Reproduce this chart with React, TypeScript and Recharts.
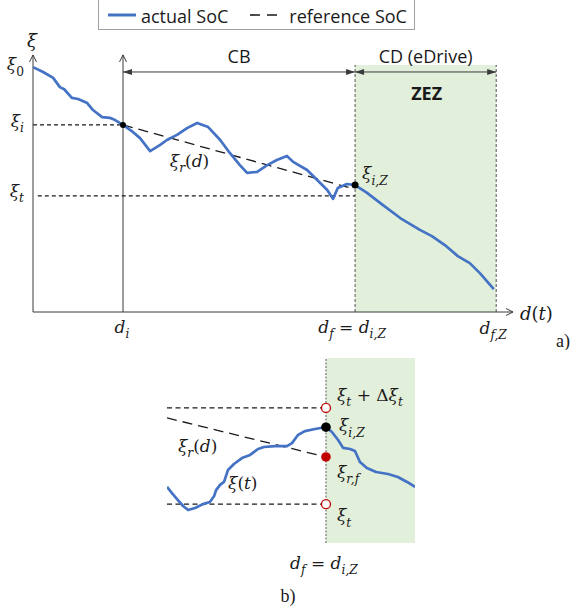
import React from 'react';
import { ComposedChart, Line, XAxis, YAxis, ReferenceLine, ReferenceDot, ReferenceArea, Legend } from 'recharts';

// ---------- Panel a) data (distance d, SoC xi) in arbitrary units 0..100 ----------
const actualDistA = [0, 2.1, 4.2, 5.6, 6.5, 8.1, 9.4, 11.3, 12.5, 14.4, 16, 17.1, 18.75, 20.8, 22.3, 24.4, 26.5, 27.9, 30, 32.1, 34.2, 36.5, 39, 41, 43.1, 44.6, 46.7, 48.8, 50.8, 52.9, 54.2, 57.1, 59.2, 61.3, 62.5, 63.5, 65.4, 67.1, 69.6, 72.3, 76.5, 80.6, 83.1, 85.8, 88.5, 91, 93.1, 96];
const actualSocA = [90.7, 88.9, 86.7, 83.3, 82.5, 79.3, 78.9, 77.4, 74.8, 72.2, 71.9, 71.1, 69.3, 66.7, 64.4, 59.6, 61.9, 63.7, 65.6, 68.1, 70, 68.5, 63.7, 58.9, 54.4, 51.5, 51.9, 54.4, 56.3, 57.8, 55.6, 52.6, 48.9, 45.2, 41.9, 45.9, 47.4, 47, 44.1, 40.4, 34.8, 30.4, 28.1, 24.8, 20.7, 18.1, 14.4, 8.5];
const refDistA = [18.75, 66.2];
const refSocA = [69.3, 45.9];

const D_I = 18.75;
const D_F = 67.1;
const D_FZ = 96.5;
const AXIS_TOP = 95.2;
const ZONE_TOP = 91.5;
const PHASE_Y = 88.9;
const XI_0 = 90.7;
const XI_I = 69.3;
const XI_T = 43;
const XI_IZ = 47;

// ---------- Panel b) data (zoom near d_f) ----------
const actualDistB = [0, 2, 4.4, 6.5, 8.5, 11.3, 14.5, 17.3, 19, 19.8, 21.4, 23, 24.6, 27, 30.2, 33.5, 36.7, 39.1, 43.5, 48.4, 50.4, 52.8, 55.6, 59.7, 64.1, 66.5, 69, 71, 73.8, 75.8, 77.8, 80.6, 84.3, 89.1, 93.1, 96.8, 100];
const actualSocB = [30.3, 27, 23.2, 20, 17.8, 18.9, 21, 22.2, 25.4, 28.6, 31.4, 33, 39.5, 42.7, 45.9, 47.6, 50.8, 51.9, 52.4, 52.4, 54, 58.4, 60.5, 61.6, 62.7, 60, 55.7, 51.4, 50.8, 49.7, 43.8, 40.5, 38.4, 37.3, 35.7, 33, 30.3];
const refDistB = [0, 64.1];
const refSocB = [67.6, 46.5];

const DF_B = 64.1;
const XI_TD_B = 73;
const XI_IZ_B = 62.6;
const XI_RF_B = 46.5;
const XI_T_B = 21;

const seriesNames = ['actual SoC', 'reference SoC'];

const toRows = (xs: number[], ys: number[]) => xs.map((d, i) => ({ d, xi: ys[i] }));
const actualA = toRows(actualDistA, actualSocA);
const refA = toRows(refDistA, refSocA);
const actualB = toRows(actualDistB, actualSocB);
const refB = toRows(refDistB, refSocB);

const BLUE = '#4472c4';
const INK = '#1a1a1a';
const AXIS = '#3a3a3a';
const GREEN = '#e2efda';
const RED = '#c00000';
const SANS = "'Open Sans', 'Noto Sans', sans-serif";
const SERIF = "'DejaVu Serif', 'Liberation Serif', serif";
const ROMAN = "'Liberation Serif', serif";

type Part = { t: string; sub?: boolean; up?: boolean };

function MathText({ x, y, parts, anchor = 'start', size = 17 }: { x: number; y: number; parts: Part[]; anchor?: string; size?: number }) {
  let sub = false;
  const shift = size * 0.32;
  const spans = parts.map((p, i) => {
    let dy = 0;
    if (p.sub && !sub) dy = shift;
    else if (!p.sub && sub) dy = -shift;
    sub = !!p.sub;
    return (
      <tspan key={i} dy={dy} fontSize={p.sub ? size * 0.72 : size} fontStyle={p.up ? 'normal' : 'italic'}>
        {p.t}
      </tspan>
    );
  });
  return (
    <text x={x} y={y} textAnchor={anchor as any} fontFamily={SERIF} fill={INK} fontSize={size} style={{ whiteSpace: 'pre' }}>
      {spans}
    </text>
  );
}

const mathAt = (parts: Part[], dx: number, dy: number, anchor = 'start', size = 17) => (p: any) => (
  <MathText x={p.cx + dx} y={p.cy + dy} parts={parts} anchor={anchor} size={size} />
);

const textAt = (t: string, dx: number, dy: number, opts: any = {}) => (p: any) => (
  <text x={p.cx + dx} y={p.cy + dy} textAnchor="middle" fontFamily={SANS} fontSize={18} fill={INK} {...opts}>
    {t}
  </text>
);

const arrowLine = (color: string, both: boolean, filled: boolean, width = 1) => (p: any) => {
  const { x1, y1, x2, y2 } = p;
  const a = Math.atan2(y2 - y1, x2 - x1);
  const head = (x: number, y: number, ang: number, k: string) => {
    const L = filled ? 9 : 7;
    const W = filled ? 3 : 3.5;
    const bx = x - L * Math.cos(ang);
    const by = y - L * Math.sin(ang);
    const p1 = `${bx - W * Math.sin(ang)},${by + W * Math.cos(ang)}`;
    const p2 = `${bx + W * Math.sin(ang)},${by - W * Math.cos(ang)}`;
    return filled ? (
      <polygon key={k} points={`${x},${y} ${p1} ${p2}`} fill={color} />
    ) : (
      <polyline key={k} points={`${p1} ${x},${y} ${p2}`} fill="none" stroke={color} strokeWidth={width} />
    );
  };
  return (
    <g>
      <line x1={x1} y1={y1} x2={x2} y2={y2} stroke={color} strokeWidth={width} />
      {head(x2, y2, a, 'e')}
      {both ? head(x1, y1, a + Math.PI, 's') : null}
    </g>
  );
};

const LegendBox = (props: any) => {
  const payload = (props.payload || []) as any[];
  return (
    <div
      style={{
        border: '1px solid #a0a0a0',
        width: 317,
        height: 31,
        boxSizing: 'border-box',
        background: '#fff',
        display: 'flex',
        alignItems: 'center',
        paddingLeft: 9,
        fontFamily: SANS,
        fontSize: 18,
        color: INK,
      }}
    >
      {payload.map((it, i) => (
        <div key={i} style={{ display: 'flex', alignItems: 'center', marginRight: i === 0 ? 22 : 0 }}>
          <svg width={28} height={10} style={{ marginRight: i === 0 ? 5 : 11 }}>
            <line
              x1={0}
              y1={5}
              x2={28}
              y2={5}
              stroke={it.payload?.stroke === BLUE ? BLUE : INK}
              strokeWidth={it.payload?.stroke === BLUE ? 3 : 1.6}
              strokeDasharray={it.payload?.stroke === BLUE ? undefined : '10 7'}
            />
          </svg>
          <span style={{ lineHeight: '20px', marginTop: 2 }}>{it.value}</span>
        </div>
      ))}
    </div>
  );
};

export default function App() {
  const ov = 'visible' as const;
  return (
    <div style={{ position: 'absolute', left: 0, top: 0, width: 579, height: 607, background: '#fff' }}>
      <ComposedChart width={579} height={350} margin={{ top: 42, right: 66, bottom: 38, left: 33 }} style={{ display: 'block' }}>
        <XAxis dataKey="d" type="number" domain={[0, 100]} allowDataOverflow hide />
        <YAxis dataKey="xi" type="number" domain={[0, 100]} allowDataOverflow hide />
        <Legend
          layout="vertical"
          verticalAlign="middle"
          align="center"
          content={LegendBox}
          wrapperStyle={{ top: -1, left: 98, width: 317, height: 31 }}
        />
        <ReferenceArea x1={D_F} x2={D_FZ} y1={0} y2={ZONE_TOP} fill={GREEN} fillOpacity={1} stroke="none" ifOverflow={ov} />
        <ReferenceLine segment={[{ x: D_F, y: 0 }, { x: D_F, y: ZONE_TOP }]} stroke="#555" strokeWidth={1} strokeDasharray="3 2" ifOverflow={ov} />
        <ReferenceLine segment={[{ x: D_FZ, y: 0 }, { x: D_FZ, y: ZONE_TOP }]} stroke="#555" strokeWidth={1} strokeDasharray="3 2" ifOverflow={ov} />
        <ReferenceLine segment={[{ x: 0, y: 0 }, { x: 0, y: AXIS_TOP }]} shape={arrowLine(AXIS, false, false)} ifOverflow={ov} />
        <ReferenceLine segment={[{ x: 0, y: 0 }, { x: 100, y: 0 }]} shape={arrowLine(AXIS, false, false)} ifOverflow={ov} />
        <ReferenceLine segment={[{ x: D_I, y: 0 }, { x: D_I, y: AXIS_TOP }]} shape={arrowLine(AXIS, false, false)} ifOverflow={ov} />
        <ReferenceLine segment={[{ x: D_I, y: PHASE_Y }, { x: D_F, y: PHASE_Y }]} shape={arrowLine(AXIS, true, true)} ifOverflow={ov} />
        <ReferenceLine segment={[{ x: D_F, y: PHASE_Y }, { x: D_FZ, y: PHASE_Y }]} shape={arrowLine(AXIS, true, true)} ifOverflow={ov} />
        <ReferenceLine segment={[{ x: 0, y: XI_I }, { x: D_I, y: XI_I }]} stroke={INK} strokeWidth={1.2} strokeDasharray="4 3" ifOverflow={ov} />
        <ReferenceLine segment={[{ x: 1, y: XI_T }, { x: D_F, y: XI_T }]} stroke={INK} strokeWidth={1.2} strokeDasharray="4 3" ifOverflow={ov} />
        <Line data={refA} dataKey="xi" name={seriesNames[1]} stroke={INK} strokeWidth={1.3} strokeDasharray="10 6" dot={false} activeDot={false} isAnimationActive={false} />
        <Line data={actualA} dataKey="xi" name={seriesNames[0]} stroke={BLUE} strokeWidth={2.7} strokeLinejoin="round" dot={false} activeDot={false} isAnimationActive={false} />
        <ReferenceDot x={D_I} y={XI_I} r={3} fill="#000" stroke="none" ifOverflow={ov} />
        <ReferenceDot x={D_F} y={XI_IZ} r={3.5} fill="#000" stroke="none" ifOverflow={ov} />
        {/* labels */}
        <ReferenceDot x={0} y={100} r={0} ifOverflow={ov} shape={mathAt([{ t: 'ξ' }], -1, 5, 'middle', 18)} />
        <ReferenceDot x={0} y={XI_0} r={0} ifOverflow={ov} shape={mathAt([{ t: 'ξ' }, { t: '0', sub: true, up: true }], -9, 3, 'end')} />
        <ReferenceDot x={0} y={XI_I} r={0} ifOverflow={ov} shape={mathAt([{ t: 'ξ' }, { t: 'i', sub: true }], -9, 2, 'end')} />
        <ReferenceDot x={0} y={XI_T} r={0} ifOverflow={ov} shape={mathAt([{ t: 'ξ' }, { t: 't', sub: true }], -9, 1, 'end')} />
        <ReferenceDot x={28.5} y={55.2} r={0} ifOverflow={ov} shape={mathAt([{ t: 'ξ' }, { t: 'r', sub: true }, { t: '(', up: true }, { t: 'd' }, { t: ')', up: true }], 0, 4)} />
        <ReferenceDot x={D_F} y={XI_IZ} r={0} ifOverflow={ov} shape={mathAt([{ t: 'ξ' }, { t: 'i,Z', sub: true }], 7, -6)} />
        <ReferenceDot x={D_I} y={0} r={0} ifOverflow={ov} shape={mathAt([{ t: 'd' }, { t: 'i', sub: true }], -1, 21, 'middle')} />
        <ReferenceDot x={D_F} y={0} r={0} ifOverflow={ov} shape={mathAt([{ t: 'd' }, { t: 'f', sub: true }, { t: ' = ', up: true }, { t: 'd' }, { t: 'i,Z', sub: true }], -3, 21, 'middle')} />
        <ReferenceDot x={D_FZ} y={0} r={0} ifOverflow={ov} shape={mathAt([{ t: 'd' }, { t: 'f,Z', sub: true }], -3, 22, 'middle')} />
        <ReferenceDot x={100} y={0} r={0} ifOverflow={ov} shape={mathAt([{ t: 'd' }, { t: '(', up: true }, { t: 't' }, { t: ')', up: true }], 7, 8, 'start', 18)} />
        <ReferenceDot x={100} y={0} r={0} ifOverflow={ov} shape={textAt('a)', 50, 35, { fontFamily: ROMAN })} />
        <ReferenceDot x={(D_I + D_F) / 2} y={PHASE_Y} r={0} ifOverflow={ov} shape={textAt('CB', 0, -9)} />
        <ReferenceDot x={(D_F + D_FZ) / 2} y={PHASE_Y} r={0} ifOverflow={ov} shape={textAt('CD (eDrive)', 0, -9)} />
        <ReferenceDot x={(D_F + D_FZ) / 2} y={PHASE_Y} r={0} ifOverflow={ov} shape={textAt('ZEZ', 1, 28, { fontWeight: 700 })} />
      </ComposedChart>

      <ComposedChart width={579} height={257} margin={{ top: 8, right: 164, bottom: 64, left: 167 }} style={{ display: 'block' }}>
        <XAxis dataKey="d" type="number" domain={[0, 100]} allowDataOverflow hide />
        <YAxis dataKey="xi" type="number" domain={[0, 100]} allowDataOverflow hide />
        <ReferenceArea x1={DF_B} x2={100} y1={0} y2={100} fill={GREEN} fillOpacity={1} stroke="none" ifOverflow={ov} />
        <ReferenceLine segment={[{ x: DF_B, y: 0 }, { x: DF_B, y: 100 }]} stroke="#777" strokeWidth={1.2} strokeDasharray="2 1.5" ifOverflow={ov} />
        <ReferenceLine segment={[{ x: 0, y: XI_TD_B }, { x: DF_B, y: XI_TD_B }]} stroke={INK} strokeWidth={1.2} strokeDasharray="5 3.5" ifOverflow={ov} />
        <ReferenceLine segment={[{ x: 0, y: XI_T_B }, { x: DF_B, y: XI_T_B }]} stroke={INK} strokeWidth={1.2} strokeDasharray="5 3.5" ifOverflow={ov} />
        <Line data={refB} dataKey="xi" stroke={INK} strokeWidth={1.3} strokeDasharray="10 6" dot={false} activeDot={false} isAnimationActive={false} legendType="none" />
        <Line data={actualB} dataKey="xi" stroke={BLUE} strokeWidth={2.7} strokeLinejoin="round" dot={false} activeDot={false} isAnimationActive={false} legendType="none" />
        <ReferenceDot x={DF_B} y={XI_TD_B} r={4.5} fill="#fff" stroke={RED} strokeWidth={1.3} ifOverflow={ov} />
        <ReferenceDot x={DF_B} y={XI_T_B} r={4.5} fill="#fff" stroke={RED} strokeWidth={1.3} ifOverflow={ov} />
        <ReferenceDot x={DF_B} y={XI_RF_B} r={4.8} fill={RED} stroke="none" ifOverflow={ov} />
        <ReferenceDot x={DF_B} y={XI_IZ_B} r={4.8} fill="#000" stroke="none" ifOverflow={ov} />
        <ReferenceDot x={DF_B} y={XI_TD_B} r={0} ifOverflow={ov} shape={mathAt([{ t: 'ξ' }, { t: 't', sub: true }, { t: ' + Δ', up: true }, { t: 'ξ' }, { t: 't', sub: true }], 11, -7)} />
        <ReferenceDot x={DF_B} y={XI_IZ_B} r={0} ifOverflow={ov} shape={mathAt([{ t: 'ξ' }, { t: 'i,Z', sub: true }], 13, 4)} />
        <ReferenceDot x={DF_B} y={XI_RF_B} r={0} ifOverflow={ov} shape={mathAt([{ t: 'ξ' }, { t: 'r,f', sub: true }], 11, 21)} />
        <ReferenceDot x={DF_B} y={XI_T_B} r={0} ifOverflow={ov} shape={mathAt([{ t: 'ξ' }, { t: 't', sub: true }], 11, 17)} />
        <ReferenceDot x={4.4} y={51.4} r={0} ifOverflow={ov} shape={mathAt([{ t: 'ξ' }, { t: 'r', sub: true }, { t: '(', up: true }, { t: 'd' }, { t: ')', up: true }], 0, 4)} />
        <ReferenceDot x={24.6} y={31.4} r={0} ifOverflow={ov} shape={mathAt([{ t: 'ξ' }, { t: '(', up: true }, { t: 't' }, { t: ')', up: true }], 0, 4)} />
        <ReferenceDot x={DF_B} y={0} r={0} ifOverflow={ov} shape={mathAt([{ t: 'd' }, { t: 'f', sub: true }, { t: ' = ', up: true }, { t: 'd' }, { t: 'i,Z', sub: true }], -2, 26, 'middle')} />
        <ReferenceDot x={48.8} y={0} r={0} ifOverflow={ov} shape={textAt('b)', 0, 59, { fontFamily: ROMAN })} />
      </ComposedChart>
    </div>
  );
}
